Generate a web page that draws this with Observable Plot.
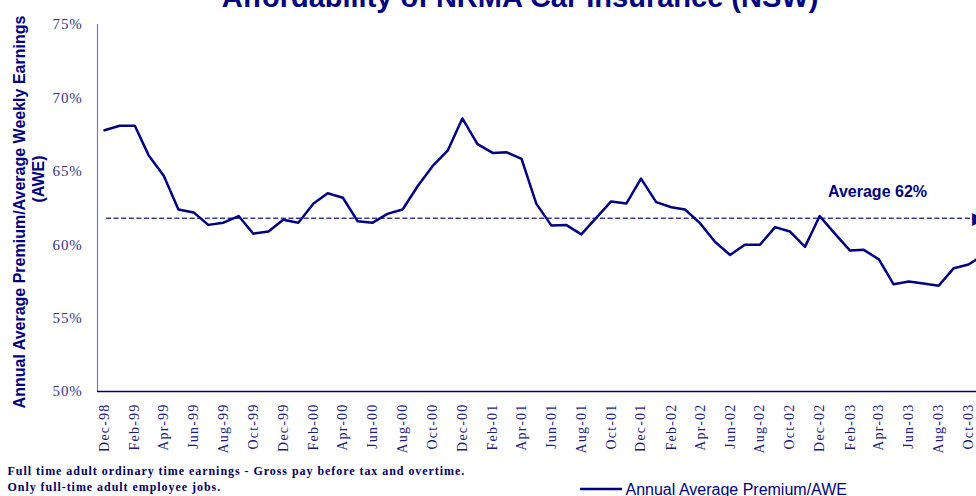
<!DOCTYPE html>
<html>
<head>
<meta charset="utf-8">
<script src="https://cdn.jsdelivr.net/npm/d3@7"></script>
<script src="https://cdn.jsdelivr.net/npm/@observablehq/plot@0.6"></script>
<style>
  html, body { margin: 0; padding: 0; background: #fff; overflow: hidden; }
  #chart svg { display: block; overflow: hidden; }
  g[aria-label="x-axis tick label"] text { letter-spacing: 1.2px; }
  g[aria-label="y-axis tick label"] text { letter-spacing: 0.8px; }
  g[aria-description="footnote"] text { letter-spacing: 0.95px; }
</style>
</head>
<body>
<div id="chart"></div>
<script>
const months = [
  "Dec-98",
  "Jan-99","Feb-99","Mar-99","Apr-99","May-99","Jun-99","Jul-99","Aug-99","Sep-99","Oct-99","Nov-99","Dec-99",
  "Jan-00","Feb-00","Mar-00","Apr-00","May-00","Jun-00","Jul-00","Aug-00","Sep-00","Oct-00","Nov-00","Dec-00",
  "Jan-01","Feb-01","Mar-01","Apr-01","May-01","Jun-01","Jul-01","Aug-01","Sep-01","Oct-01","Nov-01","Dec-01",
  "Jan-02","Feb-02","Mar-02","Apr-02","May-02","Jun-02","Jul-02","Aug-02","Sep-02","Oct-02","Nov-02","Dec-02",
  "Jan-03","Feb-03","Mar-03","Apr-03","May-03","Jun-03","Jul-03","Aug-03","Sep-03","Oct-03","Nov-03"
];
const premiumRatio = [
  67.8,
  68.1, 68.1, 66.1, 64.7, 62.4, 62.2, 61.35, 61.5, 61.95, 60.75, 60.9, 61.7,
  61.5, 62.8, 63.5, 63.2, 61.6, 61.5, 62.1, 62.4, 64.0, 65.35, 66.4, 68.6,
  66.85, 66.25, 66.3, 65.85, 62.8, 61.3, 61.35, 60.7, 61.85, 62.95, 62.8, 64.5,
  62.9, 62.55, 62.4, 61.45, 60.2, 59.3, 60.0, 60.0, 61.2, 60.9, 59.85, 61.95,
  60.75, 59.6, 59.65, 59.0, 57.3, 57.5, 57.35, 57.2, 58.4, 58.65, 59.3
];
const averageValue = [61.8];
const yTicks = [50, 55, 60, 65, 70, 75];
const xTickLabels = [
  "Dec-98","Feb-99","Apr-99","Jun-99","Aug-99","Oct-99","Dec-99","Feb-00","Apr-00","Jun-00","Aug-00","Oct-00",
  "Dec-00","Feb-01","Apr-01","Jun-01","Aug-01","Oct-01","Dec-01","Feb-02","Apr-02","Jun-02","Aug-02","Oct-02",
  "Dec-02","Feb-03","Apr-03","Jun-03","Aug-03","Oct-03"
];
const title = "Affordability of NRMA Car Insurance (NSW)";
const yTitle1 = "Annual Average Premium/Average Weekly Earnings";
const yTitle2 = "(AWE)";
const averageLabel = "Average 62%";
const footnotes = [
  "Full time adult ordinary time earnings - Gross pay before tax and overtime.",
  "Only full-time adult employee jobs."
];
const legendLabel = "Annual Average Premium/AWE";

const parse = d3.utcParse("%b-%y");
const fmt = d3.utcFormat("%b-%y");
const data = months.map((m, i) => ({date: parse(m), value: premiumRatio[i]}));
const xTicks = xTickLabels.map(parse);

const NAVY = "#000080";
const SANS = "'Liberation Sans', Arial, sans-serif";
const SERIF = "'Liberation Serif', 'Times New Roman', serif";

const chart = Plot.plot({
  width: 976,
  height: 496,
  marginLeft: 97,
  marginRight: 0,
  marginTop: 24,
  marginBottom: 105,
  style: {background: "#fff", overflow: "hidden"},
  x: {type: "utc", domain: [parse("Dec-98"), parse("Oct-03")], insetLeft: 7, insetRight: 8},
  y: {domain: [50, 75]},
  marks: [
    Plot.axisY({ticks: yTicks, tickSize: 0, tickPadding: 15, tickFormat: d => d + "%", label: null,
      fontSize: 15, fontFamily: SERIF, color: "#34348f"}),
    Plot.axisX({ticks: xTicks, tickSize: 0, tickPadding: 12, tickRotate: -90, tickFormat: fmt, label: null,
      fontSize: 14, fontFamily: SERIF, color: "#1a1a80"}),
    Plot.frame({anchor: "left", stroke: "#7878bc", strokeWidth: 1.2}),
    Plot.ruleY([50], {stroke: NAVY, strokeWidth: 1.5}),
    Plot.ruleY(averageValue, {stroke: "#3a3aa6", strokeWidth: 1.4, strokeDasharray: "5,2.6", insetLeft: 9}),
    Plot.line(data, {x: "date", y: "value", stroke: NAVY, strokeWidth: 2.5, clip: true}),
    Plot.text(averageValue, {y: d => d, frameAnchor: "right", text: () => averageLabel, dx: -99, dy: -21,
      lineAnchor: "bottom", textAnchor: "middle", fontSize: 16, fontWeight: "bold", fontFamily: SANS, fill: NAVY}),
    Plot.text(averageValue, {y: d => d, frameAnchor: "right", text: () => "\u25B6", dx: -5, textAnchor: "start",
      fontSize: 17, fill: NAVY}),
    Plot.text([title], {frameAnchor: "top", dx: -17, dy: -18, lineAnchor: "bottom", fontSize: 29,
      fontWeight: "bold", fontFamily: SANS, fill: NAVY}),
    Plot.text([yTitle1], {frameAnchor: "left", rotate: -90, dx: -78, dy: 4, textAnchor: "middle",
      lineAnchor: "middle", fontSize: 16, fontWeight: "bold", fontFamily: SANS, fill: NAVY}),
    Plot.text([yTitle2], {frameAnchor: "left", rotate: -90, dx: -59, dy: -29, textAnchor: "middle",
      lineAnchor: "middle", fontSize: 16, fontWeight: "bold", fontFamily: SANS, fill: NAVY}),
    Plot.text(footnotes, {frameAnchor: "bottom-left", text: d => d, dx: -90, dy: 83,
      lineAnchor: "bottom", textAnchor: "start", fontSize: 12, fontWeight: "bold",
      fontFamily: SERIF, fill: "#000066", ariaDescription: "footnote"}),
    Plot.text([legendLabel], {frameAnchor: "bottom-left", dx: 528, dy: 103, lineAnchor: "bottom",
      textAnchor: "start", fontSize: 16, fontFamily: SANS, fill: NAVY})
  ]
});

// stack the two footnote lines
d3.select(chart).select('g[aria-description="footnote"]').selectAll("text")
  .each(function(d, i) {
    const t = this.getAttribute("transform") || "";
    this.setAttribute("transform", t + ` translate(0,${i * 16})`);
  });

// legend swatch
d3.select(chart).append("line")
  .attr("x1", 580).attr("x2", 622).attr("y1", 489).attr("y2", 489)
  .attr("stroke", NAVY).attr("stroke-width", 2.5);

document.getElementById("chart").appendChild(chart);
</script>
</body>
</html>
